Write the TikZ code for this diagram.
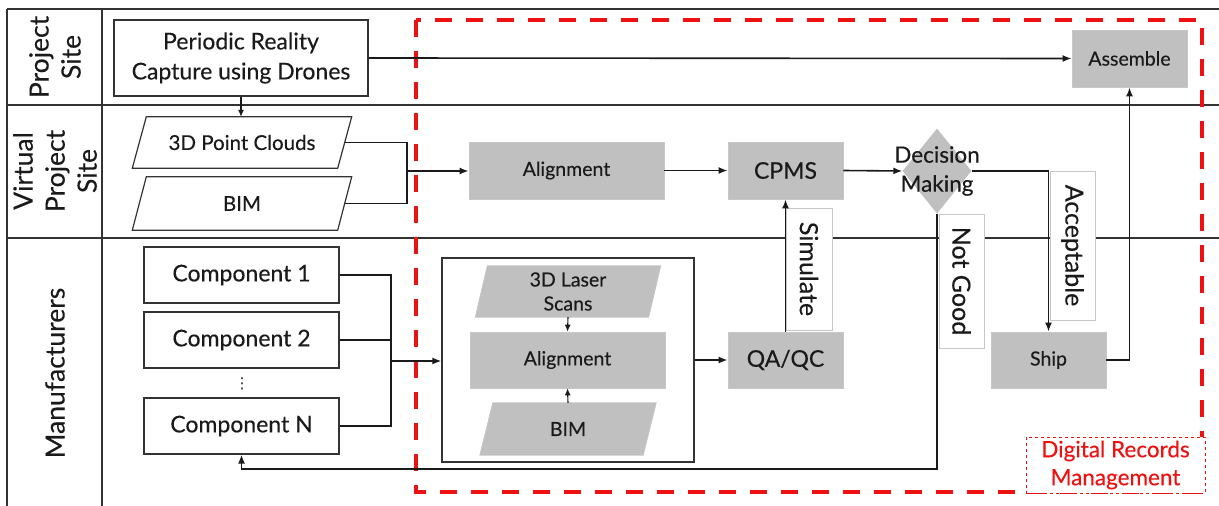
\documentclass[tikz,border=0pt]{standalone}
\usepackage{fontspec}
\setmainfont{Lato}[FakeBold=0.25]
\newfontfamily\symfont{DejaVu Sans}
\usetikzlibrary{shapes.geometric,arrows.meta,calc}
\definecolor{boxgray}{HTML}{C0C0C0}
\definecolor{ink}{HTML}{1A1A1A}
\definecolor{recred}{HTML}{EE1111}
\newcommand\drawpara[3]{%
  \draw[#3] ([xshift=#2]#1.north west) -- ([xshift=#2]#1.north east) -- ([xshift=-#2]#1.south east) -- ([xshift=-#2]#1.south west) -- cycle;}
\begin{document}
\begin{tikzpicture}[x=1pt,y=-1pt,
  every node/.style={text=ink},
  lane/.style={draw=black!80, line width=1.4pt},
  fbig/.style={font=\fontsize{23}{30}\selectfont},
  fmid/.style={font=\fontsize{19.5}{25}\selectfont},
  flane/.style={font=\fontsize{26.5}{32}\selectfont},
  wbox/.style={draw=black!80, fill=white, line width=1.2pt, inner sep=0pt, align=center},
  gbox/.style={draw=black!22, fill=boxgray, line width=0.8pt, inner sep=0pt, align=center},
  pshape/.style={inner sep=0pt},
  wpara/.style={draw=black!80, fill=white, line width=1.2pt},
  gpara/.style={draw=black!22, fill=boxgray, line width=0.8pt},
  lbl/.style={draw=black!22, fill=white, line width=0.8pt, inner sep=0pt, rotate=-90, font=\fontsize{25}{30}\selectfont},
  conn/.style={draw=ink, line width=1.6pt},
  arr/.style={conn, -{Latex[length=9pt,width=7pt]}},
  sarr/.style={draw=ink, line width=1.1pt, -{Latex[length=7pt,width=6pt]}},
]
\useasboundingbox (0,0) rectangle (1219,506);
% swimlanes
\draw[lane] (7,9) -- (1219,9);
\draw[lane] (7,105) -- (1219,105);
\draw[lane] (7,238) -- (1219,238);
\draw[lane] (7,9) -- (7,506);
\draw[lane] (102,9) -- (102,506);
\node[flane, rotate=90, align=center] (l1) at (55,57) {Project\\Site};
\node[flane, rotate=90, align=center] (l2) at (55,171) {Virtual\\Project\\Site};
\node[flane, rotate=90] (l3) at (55,373) {Manufacturers};
% digital records region
\draw[recred, line width=4pt, dash pattern=on 17pt off 14pt] (416,20) rectangle (1202,492);
% nodes
\node[wbox, fbig, minimum width=254, minimum height=76] (per) at (241,58) {Periodic Reality\\Capture using Drones};
\node[gbox, fmid, minimum width=115, minimum height=57] (asm) at (1129.5,58.5) {Assemble};
\node[pshape, minimum width=205, minimum height=51] (pc) at (242,142.5) {};
\drawpara{pc}{7pt}{wpara}
\node[font=\fontsize{20.5}{25}\selectfont] at (pc) {3D Point Clouds};
\node[pshape, minimum width=205, minimum height=53] (bima) at (242,203.5) {};
\drawpara{bima}{7pt}{wpara}
\node[font=\fontsize{20.5}{25}\selectfont] at (bima) {BIM};
\node[gbox, fmid, minimum width=195, minimum height=57] (ala) at (566.5,170.5) {Alignment};
\node[gbox, fbig, minimum width=115, minimum height=57] (cpms) at (785.5,170.5) {CPMS};
\node[diamond, fill=boxgray, minimum width=69, minimum height=85, inner sep=0pt] (dm) at (937,171) {};
\node[align=center, font=\fontsize{22.5}{29}\selectfont] (dmt) at (dm) {Decision\\Making};
\node[wbox, minimum width=252, minimum height=204] (inner) at (568,360) {};
\node[pshape, minimum width=173, minimum height=51] (ls) at (568,291.5) {};
\drawpara{ls}{6pt}{gpara}
\node[align=center, font=\fontsize{19.5}{24}\selectfont] at (ls) {3D Laser\\Scans};
\node[gbox, fmid, minimum width=195, minimum height=56] (alb) at (567.5,360) {Alignment};
\node[pshape, minimum width=163, minimum height=52] (bimb) at (568,429) {};
\drawpara{bimb}{6.5pt}{gpara}
\node[fmid] at (bimb) {BIM};
\node[gbox, fbig, minimum width=115, minimum height=56] (qa) at (785.5,360) {QA/QC};
\node[gbox, fmid, minimum width=115, minimum height=56] (ship) at (1048.5,360) {Ship};
\node[wbox, fbig, minimum width=195, minimum height=56] (c1) at (241.5,275) {Component 1};
\node[wbox, fbig, minimum width=195, minimum height=56] (c2) at (241.5,340) {Component 2};
\node[font=\symfont\fontsize{15}{15}\selectfont, inner sep=0pt] (dots) at (242,384) {⋮};
\node[wbox, fbig, minimum width=195, minimum height=56] (cN) at (241.5,426) {Component N};
% label boxes
\node[lbl, minimum width=122, minimum height=46] (sim) at (809,269) {Simulate};
\node[lbl, minimum width=134, minimum height=45] (ngl) at (961.5,281) {Not Good};
\node[lbl, minimum width=149, minimum height=45] (acc) at (1072.5,245.5) {Acceptable};
% junctions
\coordinate (j1) at (407,171);
\coordinate (j2) at (391,361);
\coordinate (back) at (937,469);
% connectors
\draw[arr] (per.east) -- (asm.west);
\draw[sarr] (per.south) -- (per.south |- pc.north);
\draw[conn] (pc.east) -| (j1) |- (bima.east);
\draw[arr] (j1) -- (j1 -| ala.west);
\draw[arr] (ala.east) -- (cpms.west);
\draw[arr] (cpms.east) -- (dm.west);
\draw[arr] (dm.east) -| (ship.north);
\draw[arr] (ship.east) -| (asm.south);
\draw[arr] (qa.north) -- (cpms.south);
\draw[arr] (dm.south) -- (back) -| (cN.south);
\draw[conn] (c1.east) -| (j2);
\draw[conn] (cN.east) -| (j2);
\draw[conn] (c2.east) -- (c2.east -| j2);
\draw[arr] (j2) -- (j2 -| inner.west);
\draw[arr] (inner.east) -- (qa.west);
\draw[sarr] (ls.south) -- (alb.north);
\draw[sarr] (bimb.north) -- (alb.south);
% records label
\node[draw=recred, dashed, fill=white, line width=0.9pt, minimum width=179, minimum height=56, inner sep=0pt, align=center, text=recred, font=\fontsize{22.5}{28}\selectfont] (drm) at (1115.5,465) {Digital Records\\Management};
\end{tikzpicture}
\end{document}
